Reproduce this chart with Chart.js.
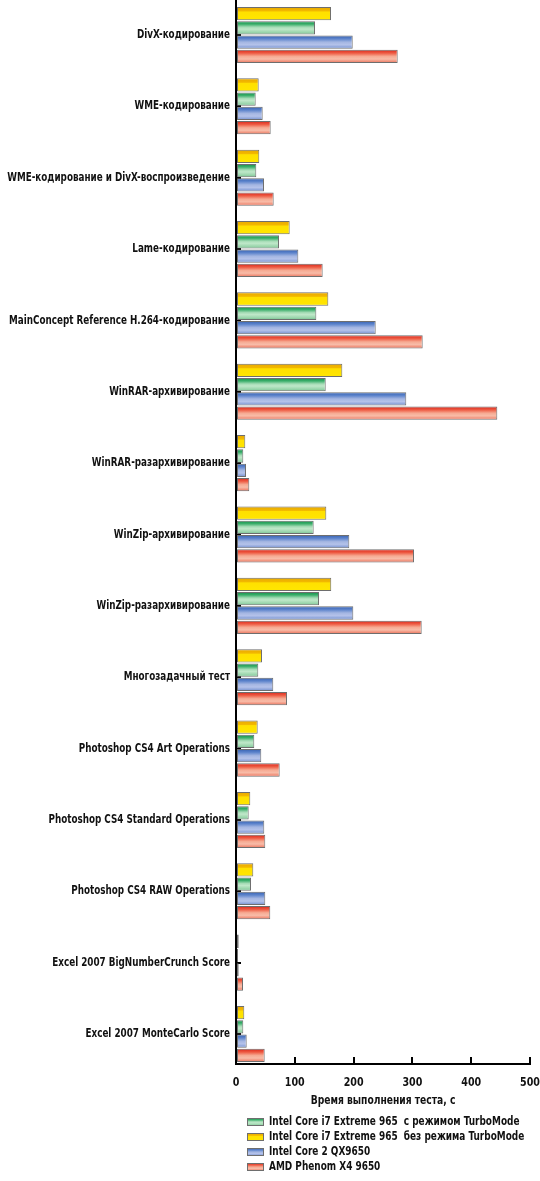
<!DOCTYPE html>
<html><head><meta charset="utf-8">
<script src="https://cdn.jsdelivr.net/npm/chart.js@4.4.1/dist/chart.umd.min.js"></script>
<style>html,body{margin:0;padding:0;background:#fff}#wrap{position:relative;width:540px;height:1181px}</style>
</head><body><div id="wrap"><canvas id="c"></canvas></div>
<script>
const categories = [
  'DivX-кодирование',
  'WME-кодирование',
  'WME-кодирование и DivX-воспроизведение',
  'Lame-кодирование',
  'MainConcept Reference H.264-кодирование',
  'WinRAR-архивирование',
  'WinRAR-разархивирование',
  'WinZip-архивирование',
  'WinZip-разархивирование',
  'Многозадачный тест',
  'Photoshop CS4 Art Operations',
  'Photoshop CS4 Standard Operations',
  'Photoshop CS4 RAW Operations',
  'Excel 2007 BigNumberCrunch Score',
  'Excel 2007 MonteCarlo Score'
];
const i7NoTurbo   = [161.6, 38.6, 39.6, 91.3, 157.0, 180.8, 15.8, 153.6, 162.0, 44.2, 36.9, 24.3, 29.4, 4.6, 14.1];
const i7Turbo     = [134.4, 33.5, 34.5, 73.1, 136.6, 152.6, 12.4, 132.1, 141.2, 37.9, 31.1, 21.6, 25.5, 3.4, 12.4];
const core2QX9650 = [198.5, 45.4, 47.6, 106.0, 237.6, 289.6, 17.0, 192.7, 199.5, 63.4, 43.0, 48.1, 49.8, 4.6, 18.2];
const phenomX4    = [275.0, 59.0, 64.1, 147.4, 317.5, 444.4, 22.6, 302.7, 315.8, 86.7, 74.3, 49.8, 58.3, 11.9, 48.8];
const seriesNames = [
  'Intel Core i7 Extreme 965  без режима TurboMode',
  'Intel Core i7 Extreme 965  с режимом TurboMode',
  'Intel Core 2 QX9650',
  'AMD Phenom X4 9650'
];
const xTicks = [0, 100, 200, 300, 400, 500];
const xTitle = 'Время выполнения теста, с';
const legendOrder = [1, 0, 2, 3];

const FONT = '"DejaVu Sans Condensed", "DejaVu Sans", sans-serif';
const TEXT_SX = 0.815; // horizontal condensing of all chart text

const palettes = [
  {base:'#ffe000', stops:[[0,'#e9a800'],[0.3,'#f2b800'],[0.38,'#ffe000'],[1,'#ffe600']]},
  {base:'#5cbf80', stops:[[0,'#12904a'],[0.22,'#3aae6a'],[0.45,'#a6dcb6'],[0.6,'#bfe8c9'],[0.85,'#98d4aa'],[1,'#6cbf8a']]},
  {base:'#7f9bd6', stops:[[0,'#3560b0'],[0.25,'#5d84cc'],[0.5,'#a4b6e2'],[0.7,'#b4c2ea'],[0.9,'#88a0d8'],[1,'#6a88cc']]},
  {base:'#f07a64', stops:[[0,'#d8261a'],[0.25,'#ee5a42'],[0.5,'#f6aa92'],[0.7,'#f8bca8'],[0.9,'#f08a74'],[1,'#e4604c']]}
];
function grad(ctx, top, h, stops) {
  const g = ctx.createLinearGradient(0, top, 0, top + h);
  stops.forEach(s => g.addColorStop(s[0], s[1]));
  return g;
}

// condensed text rendering on the chart's canvas
const canvas = document.getElementById('c');
const c2d = canvas.getContext('2d');
const nativeFill = c2d.fillText;
const nativeMeasure = c2d.measureText;
c2d.fillText = function (text, x, y, maxWidth) {
  this.save();
  this.translate(x, y);
  this.scale(TEXT_SX, 1);
  if (maxWidth !== undefined && maxWidth !== null) nativeFill.call(this, text, 0, 0, maxWidth / TEXT_SX);
  else nativeFill.call(this, text, 0, 0);
  this.restore();
};
c2d.measureText = function (text) {
  const m = nativeMeasure.call(this, text);
  return {
    width: m.width * TEXT_SX,
    actualBoundingBoxLeft: m.actualBoundingBoxLeft * TEXT_SX,
    actualBoundingBoxRight: m.actualBoundingBoxRight * TEXT_SX,
    actualBoundingBoxAscent: m.actualBoundingBoxAscent,
    actualBoundingBoxDescent: m.actualBoundingBoxDescent,
    fontBoundingBoxAscent: m.fontBoundingBoxAscent,
    fontBoundingBoxDescent: m.fontBoundingBoxDescent
  };
};

const seriesData = [i7NoTurbo, i7Turbo, core2QX9650, phenomX4];
const datasets = seriesData.map((arr, di) => ({
  label: seriesNames[di],
  data: arr.map((v, i) => ({x: v, y: i})),
  backgroundColor: () => palettes[di].base,
  borderColor: '#6e6e6e',
  borderWidth: 1,
  borderSkipped: false,
  categoryPercentage: 0.80,
  barPercentage: 0.93
}));

const gradientPlugin = {
  id: 'barGradient',
  beforeDatasetsDraw(chart) {
    const ctx = chart.ctx;
    chart.data.datasets.forEach((ds, di) => {
      const meta = chart.getDatasetMeta(di);
      meta.data.forEach(el => {
        const p = el.getProps(['y', 'height'], true);
        el.options.backgroundColor = grad(ctx, p.y - p.height / 2, p.height, palettes[di].stops);
      });
    });
  }
};

const legendPlugin = {
  id: 'rowLegend',
  afterDraw(chart) {
    const ctx = chart.ctx;
    const xs = chart.scales.x;
    ctx.save();
    ctx.font = 'bold 12.2px ' + FONT;
    ctx.textBaseline = 'middle';
    ctx.textAlign = 'left';
    legendOrder.forEach((di, row) => {
      const cy = xs.bottom + 13.5 + row * 15;
      const bx = 247, bw = 17, bh = 8;
      ctx.fillStyle = grad(ctx, cy - bh / 2, bh, palettes[di].stops);
      ctx.fillRect(bx, cy - bh / 2, bw, bh);
      ctx.strokeStyle = '#6e6e6e';
      ctx.lineWidth = 1;
      ctx.strokeRect(bx + 0.5, cy - bh / 2 + 0.5, bw - 1, bh - 1);
      ctx.fillStyle = '#111';
      ctx.fillText(chart.data.datasets[di].label, 269, cy);
    });
    ctx.restore();
  }
};

new Chart(canvas, {
  type: 'bar',
  data: {datasets},
  options: {
    indexAxis: 'y',
    responsive: true,
    maintainAspectRatio: false,
    animation: false,
    layout: {padding: {top: 0, left: 0, right: 0, bottom: 72.5}},
    plugins: {legend: {display: false}, tooltip: {enabled: false}},
    scales: {
      y: {
        type: 'linear',
        reverse: true,
        offset: false,
        min: -0.49,
        max: 14.42,
        afterBuildTicks: s => { s.ticks = categories.map((c, i) => ({value: i})); },
        afterFit: s => { s.width = 236; s.paddingTop = 0; s.paddingBottom = 0; },
        border: {color: '#000', width: 2},
        grid: {offset: false, drawOnChartArea: false, drawTicks: true, tickLength: -5, color: '#000', lineWidth: 2},
        ticks: {
          autoSkip: false,
          padding: 11,
          color: '#111',
          font: {family: FONT, size: 12, weight: 'bold'},
          callback: v => categories[v]
        }
      },
      x: {
        type: 'linear',
        position: 'bottom',
        min: 0,
        max: 500,
        afterBuildTicks: s => { s.ticks = xTicks.map(v => ({value: v})); },
        afterFit: s => { s.height = 44.5; s.paddingRight = 10; s.paddingLeft = 0; },
        border: {color: '#000', width: 2},
        grid: {drawOnChartArea: false, drawTicks: true, tickLength: -7, color: '#000', lineWidth: 2},
        ticks: {padding: 18.2, color: '#111', maxRotation: 0, font: {family: FONT, size: 13, weight: 'bold'}},
        title: {display: true, text: xTitle, color: '#111', padding: {top: 0, bottom: 0}, font: {family: FONT, size: 12.5, weight: 'bold'}}
      }
    }
  },
  plugins: [gradientPlugin, legendPlugin]
});
</script>
</body></html>
